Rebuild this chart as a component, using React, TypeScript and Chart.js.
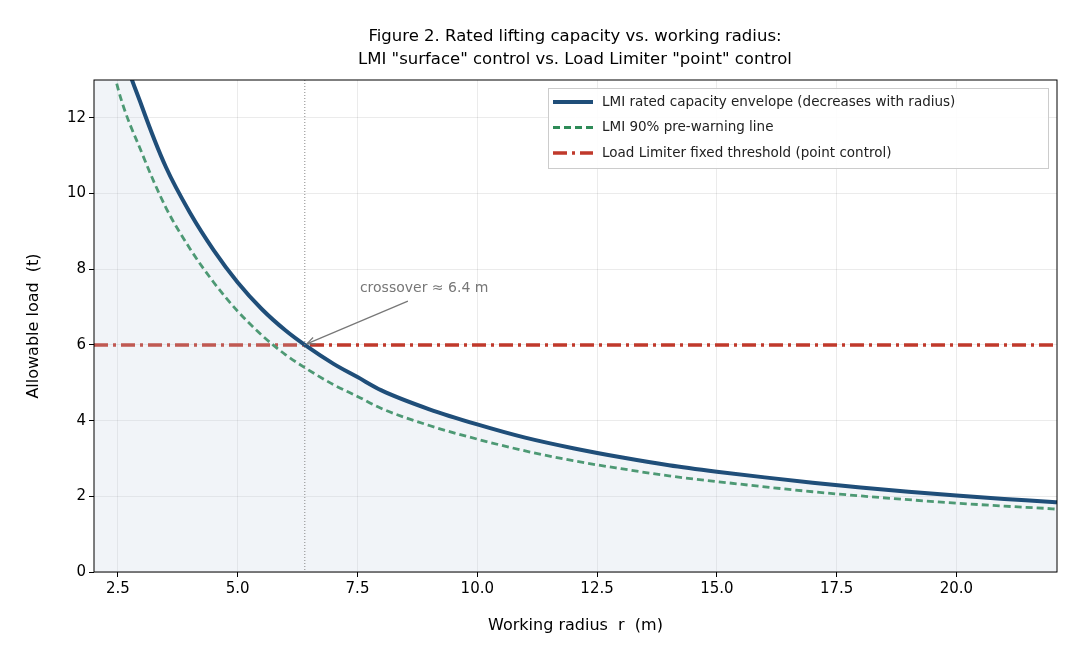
import React, { useEffect, useRef } from "react";
import { Chart, registerables } from "chart.js";
Chart.register(...registerables);

const radius = [2.0, 2.5, 3, 3.5, 4, 4.5, 5, 5.5, 6, 6.4, 7, 7.5, 8, 9, 10, 11, 12, 13, 14, 15, 16, 17, 18, 19, 20, 21, 22, 22.1];
const lmiCapacity = [17.5, 14.2, 12.3, 10.7, 9.5, 8.5, 7.65, 6.95, 6.38, 6.0, 5.5, 5.15, 4.8, 4.3, 3.9, 3.55, 3.27, 3.03, 2.82, 2.65, 2.5, 2.36, 2.23, 2.12, 2.02, 1.93, 1.85, 1.84];
const lmiPreWarning = [15.75, 12.78, 11.07, 9.63, 8.55, 7.65, 6.89, 6.26, 5.74, 5.4, 4.95, 4.64, 4.32, 3.87, 3.51, 3.2, 2.94, 2.73, 2.54, 2.39, 2.25, 2.12, 2.01, 1.91, 1.82, 1.74, 1.67, 1.66];
const limiterThreshold = 6;
const limiterRange = [2.0, 22.1];
const crossoverRadius = 6.4;
const xTicks = [2.5, 5, 7.5, 10, 12.5, 15, 17.5, 20];
const yTicks = [0, 2, 4, 6, 8, 10, 12];
const legendLabels = [
  "LMI rated capacity envelope (decreases with radius)",
  "LMI 90% pre-warning line",
  "Load Limiter fixed threshold (point control)",
];

const FONT = "'DejaVu Sans', sans-serif";
const BLUE = "#1f4e79";
const GREEN = "#2e8b57";
const RED = "#c0392b";

export default function App() {
  const ref = useRef<HTMLCanvasElement>(null);
  useEffect(() => {
    document.body.style.margin = "0";
    const decor = {
      id: "decor",
      afterDatasetsDraw(chart: any) {
        const { ctx, scales, chartArea } = chart;
        const x = scales.x, y = scales.y;
        ctx.save();
        ctx.strokeStyle = "#888";
        ctx.lineWidth = 1;
        ctx.setLineDash([1, 2]);
        const cx = x.getPixelForValue(crossoverRadius);
        ctx.beginPath(); ctx.moveTo(cx, chartArea.top); ctx.lineTo(cx, chartArea.bottom); ctx.stroke();
        ctx.setLineDash([]);
        const tx = x.getPixelForValue(7.55), ty = y.getPixelForValue(7.5);
        ctx.fillStyle = "#777";
        ctx.font = `14px ${FONT}`;
        ctx.textBaseline = "middle";
        ctx.fillText("crossover ≈ 6.4 m", tx, ty);
        const ax = x.getPixelForValue(crossoverRadius), ay = y.getPixelForValue(limiterThreshold);
        const sx = tx + 48, sy = ty + 13;
        ctx.strokeStyle = "#777"; ctx.lineWidth = 1.2;
        ctx.beginPath(); ctx.moveTo(sx, sy); ctx.lineTo(ax + 2, ay - 1); ctx.stroke();
        const ang = Math.atan2(ay - 1 - sy, ax + 2 - sx);
        ctx.beginPath();
        ctx.moveTo(ax + 2, ay - 1);
        ctx.lineTo(ax + 2 - 9 * Math.cos(ang - 0.4), ay - 1 - 9 * Math.sin(ang - 0.4));
        ctx.moveTo(ax + 2, ay - 1);
        ctx.lineTo(ax + 2 - 9 * Math.cos(ang + 0.4), ay - 1 - 9 * Math.sin(ang + 0.4));
        ctx.stroke();
        ctx.strokeStyle = "#000"; ctx.lineWidth = 1;
        ctx.strokeRect(chartArea.left, chartArea.top, chartArea.right - chartArea.left, chartArea.bottom - chartArea.top);
        const lx = 548, ly = 88, lw = 500, lh = 80;
        ctx.fillStyle = "rgba(255,255,255,0.9)";
        ctx.fillRect(lx, ly, lw, lh);
        ctx.strokeStyle = "#ccc";
        ctx.strokeRect(lx + 0.5, ly + 0.5, lw, lh);
        const styles = [
          { c: BLUE, w: 4, d: [] as number[] },
          { c: GREEN, w: 2.8, d: [7, 4] },
          { c: RED, w: 3.5, d: [14, 5, 3, 5] },
        ];
        legendLabels.forEach((t, i) => {
          const yy = ly + 14 + i * 25.5;
          ctx.strokeStyle = styles[i].c; ctx.lineWidth = styles[i].w; ctx.setLineDash(styles[i].d);
          ctx.beginPath(); ctx.moveTo(lx + 5, yy); ctx.lineTo(lx + 45, yy); ctx.stroke();
          ctx.setLineDash([]);
          ctx.fillStyle = "#222"; ctx.font = `13.5px ${FONT}`;
          ctx.fillText(t, lx + 54, yy);
        });
        ctx.fillStyle = "#000";
        ctx.textAlign = "center";
        ctx.font = `16.5px ${FONT}`;
        ctx.fillText("Figure 2. Rated lifting capacity vs. working radius:", 575, 37);
        ctx.fillText('LMI "surface" control vs. Load Limiter "point" control', 575, 60);
        ctx.font = `16px ${FONT}`;
        ctx.fillText("Working radius  r  (m)", (chartArea.left + chartArea.right) / 2, 626);
        ctx.translate(34, (chartArea.top + chartArea.bottom) / 2);
        ctx.rotate(-Math.PI / 2);
        ctx.fillText("Allowable load  (t)", 0, 0);
        ctx.restore();
      },
    };
    const chart = new Chart(ref.current!, {
      type: "line",
      data: {
        datasets: [
          {
            data: radius.map((r, i) => ({ x: r, y: lmiCapacity[i] })),
            borderColor: BLUE, borderWidth: 4, pointRadius: 0, cubicInterpolationMode: "monotone",
            fill: "origin", backgroundColor: "rgba(190,205,222,0.22)",
          },
          {
            data: radius.map((r, i) => ({ x: r, y: lmiPreWarning[i] })),
            borderColor: GREEN, borderWidth: 2.8, borderDash: [7, 4], pointRadius: 0, cubicInterpolationMode: "monotone", fill: false,
          },
          {
            data: limiterRange.map((r) => ({ x: r, y: limiterThreshold })),
            borderColor: RED, borderWidth: 3.5, borderDash: [14, 5, 3, 5], pointRadius: 0, fill: false,
          },
        ],
      },
      options: {
        animation: false,
        responsive: false,
        layout: { padding: { top: 80, right: 23, left: 0, bottom: 0 } },
        plugins: { legend: { display: false }, title: { display: false }, tooltip: { enabled: false } },
        scales: {
          x: {
            type: "linear", min: 2.0, max: 22.1,
            afterBuildTicks: (s: any) => { s.ticks = xTicks.map((v) => ({ value: v })); },
            afterFit: (s: any) => { s.height = 88; },
            ticks: { color: "#000", font: { size: 15, family: FONT }, callback: (v: any) => Number(v).toFixed(1), maxRotation: 0 },
            grid: { color: "rgba(0,0,0,0.08)", tickColor: "#000", tickLength: 5 },
            border: { display: false },
          },
          y: {
            min: 0, max: 13,
            afterBuildTicks: (s: any) => { s.ticks = yTicks.map((v) => ({ value: v })); },
            afterFit: (s: any) => { s.width = 94; },
            ticks: { color: "#000", font: { size: 15, family: FONT } },
            grid: { color: "rgba(0,0,0,0.08)", tickColor: "#000", tickLength: 5 },
            border: { display: false },
          },
        },
      },
      plugins: [decor],
    });
    return () => chart.destroy();
  }, []);
  return <canvas ref={ref} width={1080} height={660} style={{ display: "block" }} />;
}
